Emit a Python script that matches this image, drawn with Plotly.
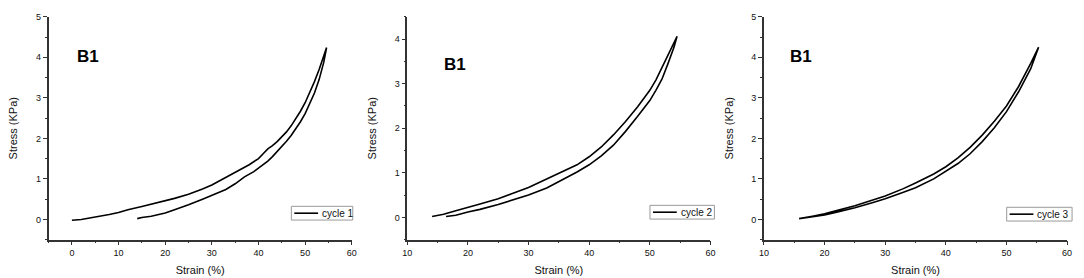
import plotly.graph_objects as go

# ---- data ----
# Panel 1 (cycle 1)
c1_up_strain = [0, 2, 5, 8, 10, 12, 15, 18, 20, 22, 25, 28, 30, 33, 36, 38, 40, 41, 42, 43, 44, 45, 46, 47, 48, 49, 50, 51, 52, 53, 54, 54.6]
c1_up_stress = [-0.02, 0.0, 0.06, 0.12, 0.17, 0.24, 0.32, 0.40, 0.46, 0.52, 0.62, 0.75, 0.85, 1.03, 1.22, 1.35, 1.50, 1.62, 1.74, 1.82, 1.92, 2.03, 2.16, 2.31, 2.48, 2.67, 2.88, 3.12, 3.40, 3.70, 4.02, 4.24]
c1_lo_strain = [14, 15, 17, 19, 20, 22, 25, 28, 30, 33, 35, 37, 39, 41, 42, 43, 44, 45, 46, 47, 48, 49, 50, 51, 52, 53, 54, 54.6]
c1_lo_stress = [0.02, 0.05, 0.08, 0.13, 0.16, 0.24, 0.36, 0.50, 0.59, 0.74, 0.88, 1.05, 1.18, 1.34, 1.44, 1.55, 1.67, 1.80, 1.93, 2.07, 2.23, 2.41, 2.61, 2.85, 3.12, 3.45, 3.88, 4.24]

# Panel 2 (cycle 2)
c2_up_strain = [14.1, 16, 18, 20, 22, 25, 27, 30, 33, 36, 38, 40, 42, 44, 46, 48, 50, 51, 52, 53, 54, 54.5]
c2_up_stress = [0.02, 0.07, 0.15, 0.23, 0.30, 0.42, 0.52, 0.67, 0.85, 1.05, 1.18, 1.36, 1.58, 1.85, 2.15, 2.48, 2.85, 3.08, 3.35, 3.63, 3.92, 4.06]
c2_lo_strain = [16.4, 18, 20, 22, 25, 27, 30, 33, 36, 38, 40, 42, 44, 46, 48, 50, 51, 52, 53, 54, 54.5]
c2_lo_stress = [0.02, 0.05, 0.12, 0.18, 0.29, 0.37, 0.50, 0.66, 0.87, 1.02, 1.18, 1.38, 1.62, 1.93, 2.27, 2.62, 2.85, 3.10, 3.45, 3.82, 4.06]

# Panel 3 (cycle 3)
c3_up_strain = [15.8, 18, 20, 22, 25, 28, 30, 33, 35, 38, 40, 42, 44, 46, 48, 50, 52, 54, 55.3]
c3_up_stress = [0.02, 0.08, 0.14, 0.22, 0.34, 0.48, 0.58, 0.76, 0.90, 1.12, 1.30, 1.52, 1.78, 2.08, 2.42, 2.80, 3.28, 3.85, 4.25]
c3_lo_strain = [15.8, 18, 20, 22, 25, 28, 30, 33, 35, 38, 40, 42, 44, 46, 48, 50, 52, 54, 55.3]
c3_lo_stress = [0.02, 0.07, 0.11, 0.18, 0.29, 0.42, 0.51, 0.67, 0.78, 1.00, 1.18, 1.38, 1.62, 1.92, 2.26, 2.66, 3.15, 3.72, 4.25]

cycle_names = ["cycle 1", "cycle 2", "cycle 3"]
panel_label = "B1"
x_ranges = [[-5, 60], [10, 60], [10, 60]]
y_ranges = [[-0.5, 5], [-0.5, 4.5], [-0.5, 5]]

panels = [
    (c1_lo_strain, c1_lo_stress, c1_up_strain, c1_up_stress),
    (c2_lo_strain, c2_lo_stress, c2_up_strain, c2_up_stress),
    (c3_lo_strain, c3_lo_stress, c3_up_strain, c3_up_stress),
]

W, H = 1084, 278
x_dom_px = [(44, 350), (406, 712), (766, 1072)]
y_dom = [1 - 239 / H, 1 - 12 / H]
# legend boxes (left, right, top, bottom) in pixels
legend_box_px = [(289, 351, 205, 219), (651, 716, 204, 218), (1011, 1077, 206, 220)]
label_pos = [(0.087, 0.82), (0.113, 0.785), (0.08, 0.82)]

fig = go.Figure()
font = "Liberation Sans, Arial, sans-serif"

layout = dict(
    width=W, height=H,
    margin=dict(l=0, r=0, t=0, b=0),
    paper_bgcolor="white", plot_bgcolor="white",
    font=dict(family=font, color="#111", size=9),
    showlegend=False,
)

shapes = []
for i, (lx, ly, ux, uy) in enumerate(panels):
    n = "" if i == 0 else str(i + 1)
    xs = list(lx) + list(reversed(ux))
    ys = list(ly) + list(reversed(uy))
    fig.add_trace(go.Scatter(
        x=xs, y=ys, mode="lines", name=cycle_names[i],
        line=dict(color="black", width=1.6),
        xaxis=f"x{n}", yaxis=f"y{n}",
    ))
    axcommon = dict(
        showline=True, linecolor="#333", linewidth=1.5, mirror=False,
        showgrid=False, zeroline=False, ticks="outside", ticklen=4,
        tickwidth=1, tickcolor="#333", tickfont=dict(size=9, family=font, color="#111"),
    )
    layout[f"xaxis{n}"] = dict(
        axcommon,
        domain=[x_dom_px[i][0] / W, x_dom_px[i][1] / W],
        range=x_ranges[i], tick0=0, dtick=10,
        minor=dict(dtick=5, tick0=0, ticks="outside", ticklen=2, tickcolor="#333"),
        anchor=f"y{n}",
        title=dict(text="Strain (%)", font=dict(size=11, family=font, color="#111"), standoff=9),
    )
    layout[f"yaxis{n}"] = dict(
        axcommon,
        domain=y_dom,
        range=y_ranges[i], tick0=0, dtick=1,
        minor=dict(dtick=0.5, tick0=0, ticks="outside", ticklen=2, tickcolor="#333"),
        anchor=f"x{n}",
        title=dict(text="Stress (KPa)", font=dict(size=11, family=font, color="#111"), standoff=16),
    )
    # legend-like box
    L, R, T, B = legend_box_px[i]
    shapes.append(dict(type="rect", xref="paper", yref="paper",
                       x0=L / W, x1=R / W, y0=1 - B / H, y1=1 - T / H,
                       line=dict(color="#999", width=1), fillcolor="white", layer="above"))
    ym = 1 - (T + B) / 2 / H
    shapes.append(dict(type="line", xref="paper", yref="paper",
                       x0=(L + 3) / W, x1=(L + 27) / W, y0=ym, y1=ym,
                       line=dict(color="black", width=1.6), layer="above"))
    fig.add_annotation(
        text=cycle_names[i], xref="paper", yref="paper",
        x=(L + 29) / W, y=ym, xanchor="left", yanchor="middle",
        showarrow=False, font=dict(size=10, family=font, color="#111"),
    )
    fig.add_annotation(
        text=f"<b>{panel_label}</b>", xref=f"x{n} domain", yref=f"y{n} domain",
        x=label_pos[i][0], y=label_pos[i][1], xanchor="left", yanchor="middle",
        showarrow=False, font=dict(size=17, family=font, color="black"),
    )

layout["shapes"] = shapes
fig.update_layout(**layout)
fig.write_html("out.html", config={"displayModeBar": False},
               post_script="document.body.style.margin='0';document.body.style.overflow='hidden';")
